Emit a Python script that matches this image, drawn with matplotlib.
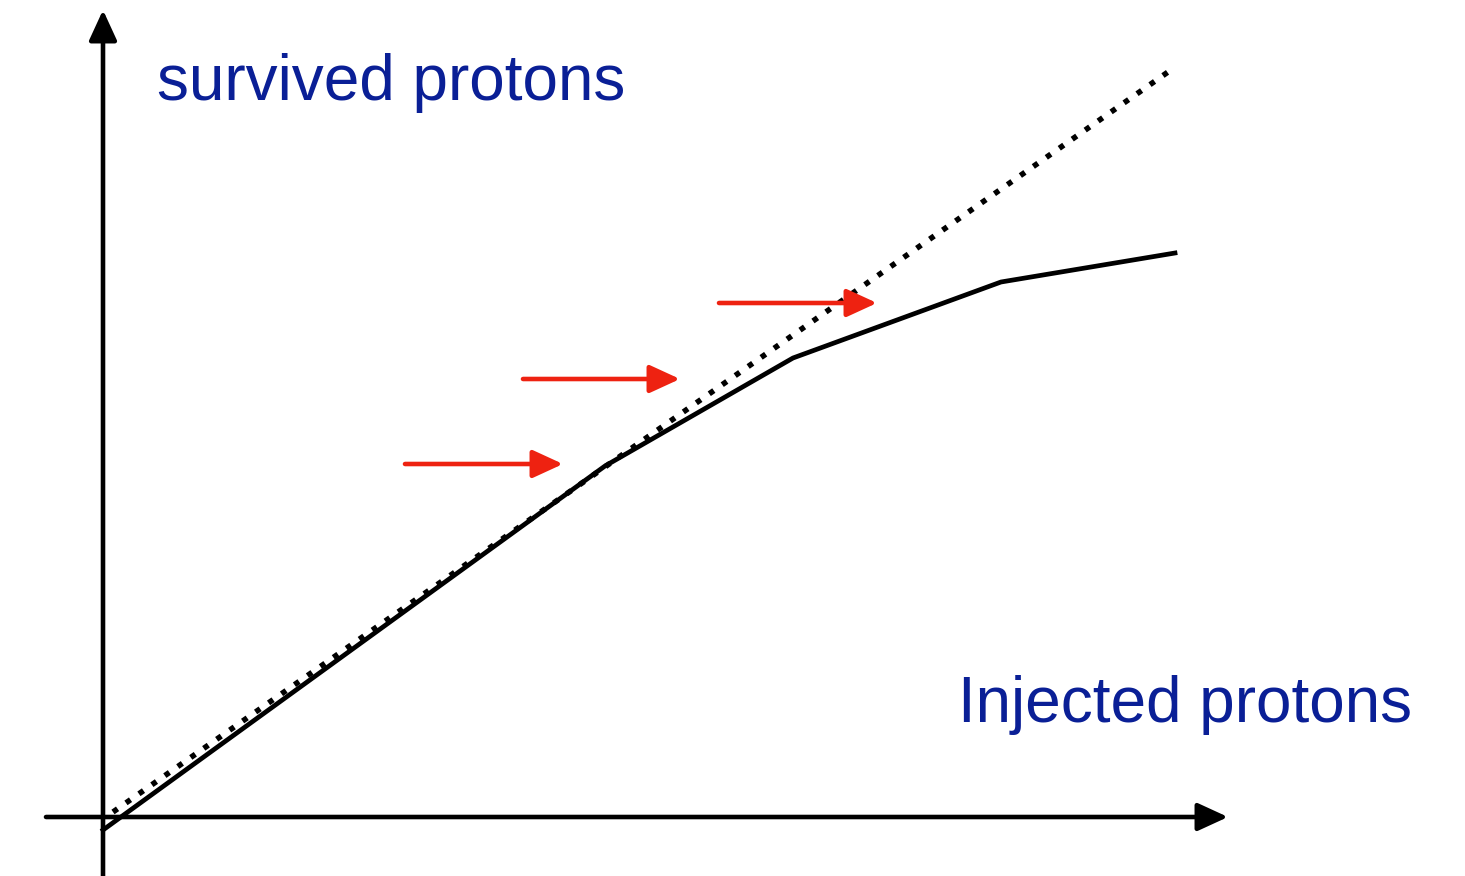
import matplotlib.pyplot as plt

# === Data (pixel-like units, y grows downward) ===
survived_x = [103, 605, 793, 1001, 1175]
survived_y = [830, 466, 358, 282, 253]

ideal_x = [113, 1168]
ideal_y = [812, 72]

arrow_start_x = [405, 523, 719]
arrow_end_x = [563, 680, 877]
arrow_y = [464, 379, 303]

x_axis = [46, 1228, 817]   # x from, x to, y
y_axis = [876, 10, 103]    # y from, y to, x

label_y = "survived protons"
label_x = "Injected protons"
text_color = "#0a1f96"
red = "#ee2211"

# === Figure ===
fig = plt.figure(figsize=(14.65, 8.76), dpi=100)
ax = fig.add_axes([0, 0, 1, 1])
ax.set_xlim(0, 1465)
ax.set_ylim(876, 0)
ax.axis("off")

# axes with arrowheads
head = "-|>,head_length=1.85,head_width=0.85"
ax.annotate("", xy=(x_axis[1], x_axis[2]), xytext=(x_axis[0], x_axis[2]),
            arrowprops=dict(arrowstyle=head, color="black", lw=3.3,
                            mutation_scale=10, shrinkA=0, shrinkB=0))
ax.annotate("", xy=(y_axis[2], y_axis[1]), xytext=(y_axis[2], y_axis[0]),
            arrowprops=dict(arrowstyle=head, color="black", lw=3.3,
                            mutation_scale=10, shrinkA=0, shrinkB=0))

# ideal (dotted) and survived (solid)
ax.plot(ideal_x, ideal_y, color="black", lw=4.0, linestyle=(0, (1, 1.85)),
        dash_capstyle="butt")
ax.plot(survived_x, survived_y, color="black", lw=3.4, solid_joinstyle="round")

# red arrows
for xs, xe, y in zip(arrow_start_x, arrow_end_x, arrow_y):
    ax.annotate("", xy=(xe, y), xytext=(xs, y),
                arrowprops=dict(arrowstyle=head, color=red, lw=3.3,
                                mutation_scale=10, shrinkA=0, shrinkB=0))

# labels
ax.text(157, 100, label_y, color=text_color, fontsize=46,
        family="Liberation Sans", ha="left", va="baseline")
ax.text(1412, 722, label_x, color=text_color, fontsize=46,
        family="Liberation Sans", ha="right", va="baseline")

fig.savefig("out.png", dpi=100)
